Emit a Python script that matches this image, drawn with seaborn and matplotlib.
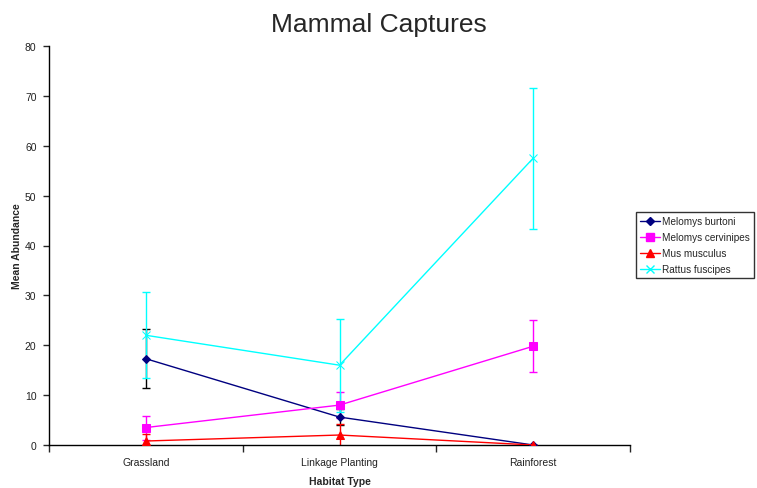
import numpy as np
import pandas as pd
import matplotlib
matplotlib.use('Agg')
import matplotlib.pyplot as plt
import seaborn as sns

habitats = ['Grassland', 'Linkage Planting', 'Rainforest']
species = ['Melomys burtoni', 'Melomys cervinipes', 'Mus musculus', 'Rattus fuscipes']

burtoni = [17.3, 5.6, 0.0]
burtoni_err = [5.9, 1.6, 0.0]
cervinipes = [3.5, 8.0, 19.8]
cervinipes_err = [2.4, 2.6, 5.2]
musculus = [0.8, 2.0, 0.0]
musculus_err = [1.4, 2.3, 0.0]
fuscipes = [22.0, 16.0, 57.5]
fuscipes_err = [8.6, 9.3, 14.1]

colors = ['#000080', '#FF00FF', '#FF0000', '#00FFFF']
err_colors = ['#000000', '#FF00FF', '#FF0000', '#00FFFF']
markers = ['D', 's', '^', 'x']
msizes = [4, 5.5, 5.5, 5.5]

means = [burtoni, cervinipes, musculus, fuscipes]
errs = [burtoni_err, cervinipes_err, musculus_err, fuscipes_err]

rows = []
for sp, m, e in zip(species, means, errs):
    for i, h in enumerate(habitats):
        rows.append({'species': sp, 'pos': i, 'mean': m[i], 'err': e[i]})
df = pd.DataFrame(rows)

sns.set_style('white')
plt.rcParams['font.family'] = ['Liberation Sans', 'DejaVu Sans']

fig = plt.figure(figsize=(7.57, 4.89), dpi=100)
ax = fig.add_axes([49 / 757, 1 - 446 / 489, (630 - 49) / 757, (446 - 47) / 489])

# error bars first, lines on top
for sp, ec in zip(species, err_colors):
    d = df[df['species'] == sp]
    ax.errorbar(d['pos'], d['mean'], yerr=d['err'], fmt='none', ecolor=ec,
                elinewidth=1, capsize=3, capthick=1, zorder=2)

for sp, c, m, ms in zip(species, colors, markers, msizes):
    d = df[df['species'] == sp]
    sns.lineplot(data=d, x='pos', y='mean', color=c, marker=m, markersize=ms,
                 markeredgecolor=c, markerfacecolor=c, linewidth=1, ax=ax,
                 zorder=3, errorbar=None)

ax.set_xlim(-0.5, 2.5)
ax.set_ylim(0, 80)
ax.set_yticks(np.arange(0, 81, 10))
ax.set_xticks([-0.5, 0.5, 1.5, 2.5])
ax.set_xticklabels([])
ax.set_xticks([0, 1, 2], minor=True)
ax.set_xticklabels(habitats, minor=True)
ax.tick_params(axis='x', which='minor', length=0, pad=9, labelsize=7.5,
               labelcolor='#222222')
ax.tick_params(axis='x', which='major', length=5, width=1, direction='out', bottom=True)
ax.tick_params(axis='y', length=4, width=1, direction='out', left=True,
               labelsize=7.5, pad=5, labelcolor='#222222')

for s in ['top', 'right']:
    ax.spines[s].set_visible(False)
for s in ['left', 'bottom']:
    ax.spines[s].set_color('black')
    ax.spines[s].set_linewidth(1)

ax.set_xlabel('Habitat Type', fontsize=7.5, fontweight='bold', labelpad=6)
ax.set_ylabel('Mean Abundance', fontsize=7.5, fontweight='bold', labelpad=2)
fig.suptitle('Mammal Captures', fontsize=19, y=0.974)

handles = [plt.Line2D([0], [0], color=c, marker=m, markersize=ms, lw=1,
                      markerfacecolor=c, markeredgecolor=c)
           for c, m, ms in zip(colors, markers, msizes)]
leg = fig.legend(handles, species, loc='upper left',
                 bbox_to_anchor=(636 / 757, 1 - 213 / 489), fontsize=7.2,
                 frameon=True, fancybox=False, edgecolor='black',
                 handlelength=2.0, handletextpad=0.25, labelspacing=0.6,
                 borderpad=0.4, borderaxespad=0)
leg.get_frame().set_linewidth(1)

fig.savefig('out.png', dpi=100)
